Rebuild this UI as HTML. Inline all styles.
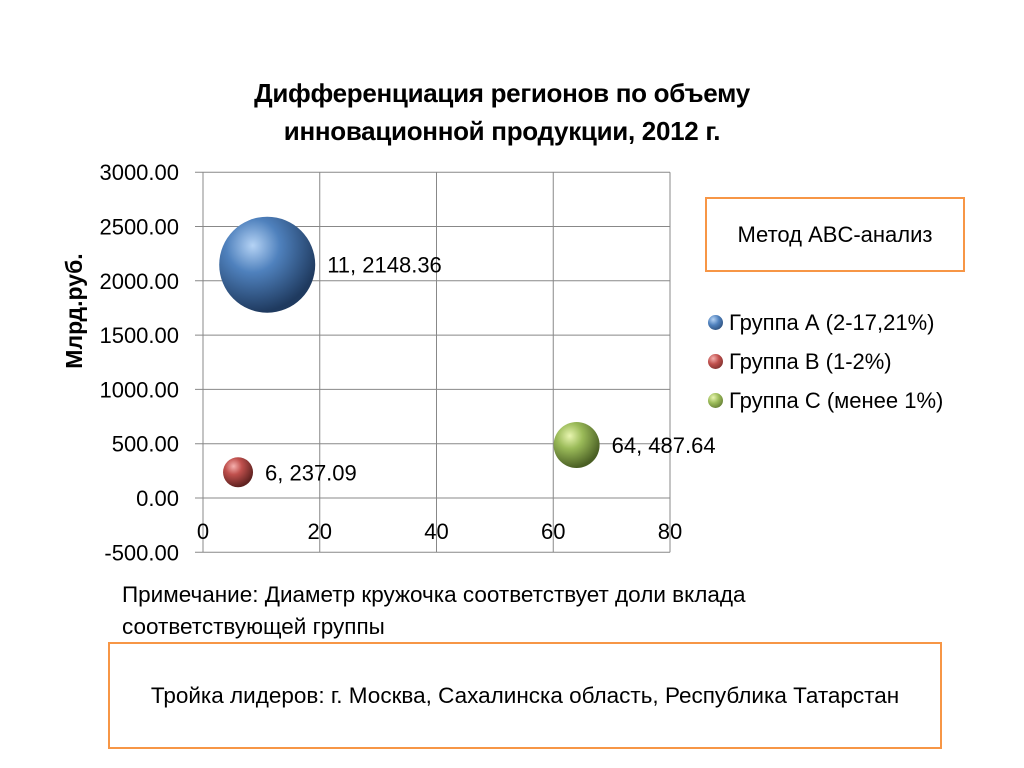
<!DOCTYPE html>
<html><head><meta charset="utf-8"><style>
body{margin:0;background:#fff;width:1024px;height:768px;overflow:hidden;font-family:"Liberation Sans","DejaVu Sans",sans-serif}
.t{position:absolute}
</style></head><body>
<div class="t" style="left:100px;top:74px;width:804px;text-align:center;font-weight:bold;font-size:26px;line-height:38px;color:#000;letter-spacing:-0.3px">Дифференциация регионов по объему<br>инновационной продукции, 2012 г.</div>
<svg class="t" style="left:0;top:0" width="1024" height="768">
<defs>
<radialGradient id="gA" cx="35%" cy="30%" r="70%"><stop offset="0" stop-color="#b5d3f5"/><stop offset="0.4" stop-color="#4f81bd"/><stop offset="1" stop-color="#1f3a5f"/></radialGradient>
<radialGradient id="gB" cx="35%" cy="30%" r="70%"><stop offset="0" stop-color="#f5b0ae"/><stop offset="0.4" stop-color="#c0504d"/><stop offset="1" stop-color="#5f2220"/></radialGradient>
<radialGradient id="gC" cx="35%" cy="30%" r="70%"><stop offset="0" stop-color="#e8f5b0"/><stop offset="0.4" stop-color="#9bbb59"/><stop offset="1" stop-color="#4a5f24"/></radialGradient>
</defs>
<g id="grid"></g><g id="bubbles"></g>
<text x="82" y="311" transform="rotate(-90 82 311)" text-anchor="middle" font-weight="bold" font-size="23">Млрд.руб.</text>
</svg>
<div class="t" style="left:705px;top:197px;width:256px;height:71px;border:2px solid #f79646;font-size:22px;line-height:71px;text-align:center;white-space:nowrap">Метод ABC-анализ</div>
<div class="t" style="left:708px;top:303px;font-size:22px;line-height:39px;white-space:nowrap">
<div><span style="display:inline-block;width:15px;height:15px;border-radius:50%;background:radial-gradient(circle at 35% 30%,#b5d3f5,#4f81bd 40%,#1f3a5f);margin-right:6px"></span>Группа А (2-17,21%)</div>
<div><span style="display:inline-block;width:15px;height:15px;border-radius:50%;background:radial-gradient(circle at 35% 30%,#f5b0ae,#c0504d 40%,#5f2220);margin-right:6px"></span>Группа В (1-2%)</div>
<div><span style="display:inline-block;width:15px;height:15px;border-radius:50%;background:radial-gradient(circle at 35% 30%,#e8f5b0,#9bbb59 40%,#4a5f24);margin-right:6px"></span>Группа С (менее 1%)</div>
</div>
<div class="t" style="left:122px;top:579px;font-size:22.5px;line-height:32px;white-space:nowrap">Примечание: Диаметр кружочка соответствует доли вклада<br>соответствующей группы</div>
<div class="t" style="left:108px;top:642px;width:830px;height:103px;border:2px solid #f79646;font-size:22.5px;line-height:103px;text-align:center;white-space:nowrap">Тройка лидеров: г. Москва, Сахалинска область, Республика Татарстан</div>
<script>
const xTicks=[0,20,40,60,80];
const yTicks=[-500,0,500,1000,1500,2000,2500,3000];
const xs=[11,6,64];
const ys=[2148.36,237.09,487.64];
const sizes=[48,15,23];
const fills=['url(#gA)','url(#gB)','url(#gC)'];
const NS='http://www.w3.org/2000/svg';
const X=v=>203+(v-0)/80*467, Y=v=>498-v*0.1086;
const grid=document.getElementById('grid'),bub=document.getElementById('bubbles');
function mk(tag,at,p){const e=document.createElementNS(NS,tag);for(const k in at)e.setAttribute(k,at[k]);p.appendChild(e);return e;}
yTicks.forEach(v=>{
const l=mk('line',{x1:195,x2:670,y1:Y(v),y2:Y(v),stroke:'#888','stroke-width':1},grid);


const t=mk('text',{x:179,y:Y(v)+8,'text-anchor':'end','font-size':22},grid);t.textContent=v.toFixed(2);


});
xTicks.forEach(v=>{
const l=mk('line',{x1:X(v),x2:X(v),y1:Y(3000),y2:Y(-500),stroke:'#888','stroke-width':1},grid);


const t=mk('text',{x:X(v),y:539,'text-anchor':'middle','font-size':22},grid);t.textContent=v;


});
xs.forEach((x,i)=>{
const c=mk('circle',{cx:X(x),cy:Y(ys[i]),r:sizes[i],fill:fills[i]},bub);


const t=mk('text',{x:X(x)+sizes[i]+12,y:Y(ys[i])+8,'font-size':22},bub);t.textContent=x+', '+ys[i].toFixed(2);


});
</script>
</body></html>
